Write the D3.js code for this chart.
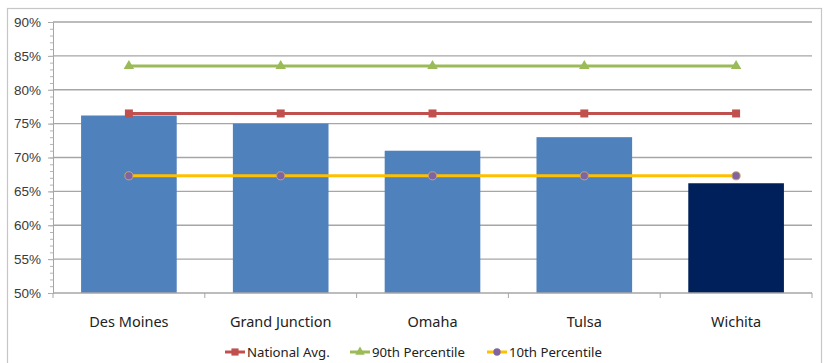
<!DOCTYPE html>
<html>
<head>
<meta charset="utf-8">
<script src="https://cdn.jsdelivr.net/npm/d3@7"></script>
<style>
  html, body { margin: 0; padding: 0; background: #fff; }
  svg { display: block; font-family: "Noto Sans", "Open Sans", sans-serif; }
</style>
</head>
<body>
<svg id="chart" width="826" height="363"></svg>
<script>
// Cities compared and their rates (percent)
const categories = ["Des Moines", "Grand Junction", "Omaha", "Tulsa", "Wichita"];
const cityValues = [76.2, 75.0, 71.0, 73.0, 66.2];
const nationalAvg = [76.5, 76.5, 76.5, 76.5, 76.5];
const pct90 = [83.5, 83.5, 83.5, 83.5, 83.5];
const pct10 = [67.3, 67.3, 67.3, 67.3, 67.3];
const yTicks = [50, 55, 60, 65, 70, 75, 80, 85, 90];
const highlighted = "Wichita";

const svg = d3.select("#chart");
const W = 826, H = 363;
const m = { left: 53, right: 14, top: 22, bottom: 70 };

// chart frame
svg.append("rect")
  .attr("x", 7.5).attr("y", 8.5)
  .attr("width", 814).attr("height", 360)
  .attr("fill", "#fff").attr("stroke", "#c6c6c6").attr("stroke-width", 1.2);

const x = d3.scaleBand().domain(categories).range([m.left, W - m.right]).paddingInner(0.37).paddingOuter(0.185);
const xc = d3.scalePoint().domain(categories).range([m.left, W - m.right]).padding(0.5);
const y = d3.scaleLinear().domain([50, 90]).range([H - m.bottom, m.top]);

// gridlines
svg.append("g").selectAll("line").data(yTicks.slice(1)).join("line")
  .attr("x1", m.left).attr("x2", W - m.right)
  .attr("y1", d => y(d)).attr("y2", d => y(d))
  .attr("stroke", "#a6a6a6").attr("stroke-width", 1.3);

// y axis with minor ticks
const yAxis = svg.append("g").attr("transform", `translate(${m.left},0)`)
  .call(d3.axisLeft(y).tickValues(yTicks).tickFormat(d => d + "%").tickSize(5).tickPadding(7));
svg.append("g").attr("transform", `translate(${m.left},0)`)
  .call(d3.axisLeft(y).tickValues(d3.range(50, 91, 1)).tickFormat("").tickSize(3))
  .call(g => g.select(".domain").remove())
  .selectAll("line").attr("stroke", "#b4b4b4");
yAxis.select(".domain").attr("stroke", "#a6a6a6");
yAxis.selectAll(".tick line").attr("stroke", "#a6a6a6");
yAxis.selectAll("text").attr("fill", "#3a3a3a").attr("font-size", 13.5);

// bars
svg.append("g").selectAll("rect").data(categories).join("rect")
  .attr("x", d => x(d))
  .attr("width", x.bandwidth())
  .attr("y", (d, i) => y(cityValues[i]))
  .attr("height", (d, i) => y(50) - y(cityValues[i]))
  .attr("fill", d => d === highlighted ? "#00205b" : "#4f81bd");

// x axis with ticks at category boundaries
const step = x.step();
const xAxisG = svg.append("g").attr("transform", `translate(0,${y(50)})`);
xAxisG.append("line").attr("x1", m.left).attr("x2", W - m.right)
  .attr("stroke", "#a6a6a6").attr("stroke-width", 1.3);
xAxisG.selectAll("line.b").data(d3.range(categories.length + 1)).join("line")
  .attr("class", "b")
  .attr("x1", i => m.left + i * step).attr("x2", i => m.left + i * step)
  .attr("y1", 0).attr("y2", 5).attr("stroke", "#a6a6a6");
xAxisG.selectAll("text").data(categories).join("text")
  .attr("x", d => xc(d)).attr("y", 34)
  .attr("text-anchor", "middle").attr("font-size", 14.5).attr("fill", "#222")
  .text(d => d);

// reference lines
const series = [
  { name: "National Avg.", values: nationalAvg, color: "#c0504d", marker: "square", mfill: "#c0504d" },
  { name: "90th Percentile", values: pct90, color: "#9bbb59", marker: "triangle", mfill: "#9bbb59" },
  { name: "10th Percentile", values: pct10, color: "#ffc000", marker: "circle", mfill: "#8064a2" }
];
const line = d3.line().x((d, i) => xc(categories[i])).y(d => y(d));
const symbolOf = { square: d3.symbolSquare, triangle: d3.symbolTriangle, circle: d3.symbolCircle };
const sizeOf = { square: 64, triangle: 48, circle: 52 };

series.forEach(s => {
  svg.append("path").datum(s.values).attr("d", line)
    .attr("fill", "none").attr("stroke", s.color).attr("stroke-width", 3);
  svg.append("g").selectAll("path").data(s.values).join("path")
    .attr("transform", (d, i) => `translate(${xc(categories[i])},${y(d)})`)
    .attr("d", d3.symbol(symbolOf[s.marker], sizeOf[s.marker]))
    .attr("fill", s.mfill)
    .attr("stroke", s.marker === "circle" ? "#c9a46a" : "none").attr("stroke-width", 1);
});

// legend
const legendX = [225, 350, 487];
const lg = svg.append("g").attr("transform", "translate(0,352)");
series.forEach((s, k) => {
  const g = lg.append("g").attr("transform", `translate(${legendX[k]},0)`);
  g.append("line").attr("x1", 0).attr("x2", 20).attr("stroke", s.color).attr("stroke-width", 3);
  g.append("path").attr("transform", "translate(10,0)")
    .attr("d", d3.symbol(symbolOf[s.marker], sizeOf[s.marker] * 0.8))
    .attr("fill", s.mfill);
  g.append("text").attr("x", 22).attr("y", 5).attr("font-size", 13.2).attr("fill", "#222").text(s.name);
});
</script>
</body>
</html>
